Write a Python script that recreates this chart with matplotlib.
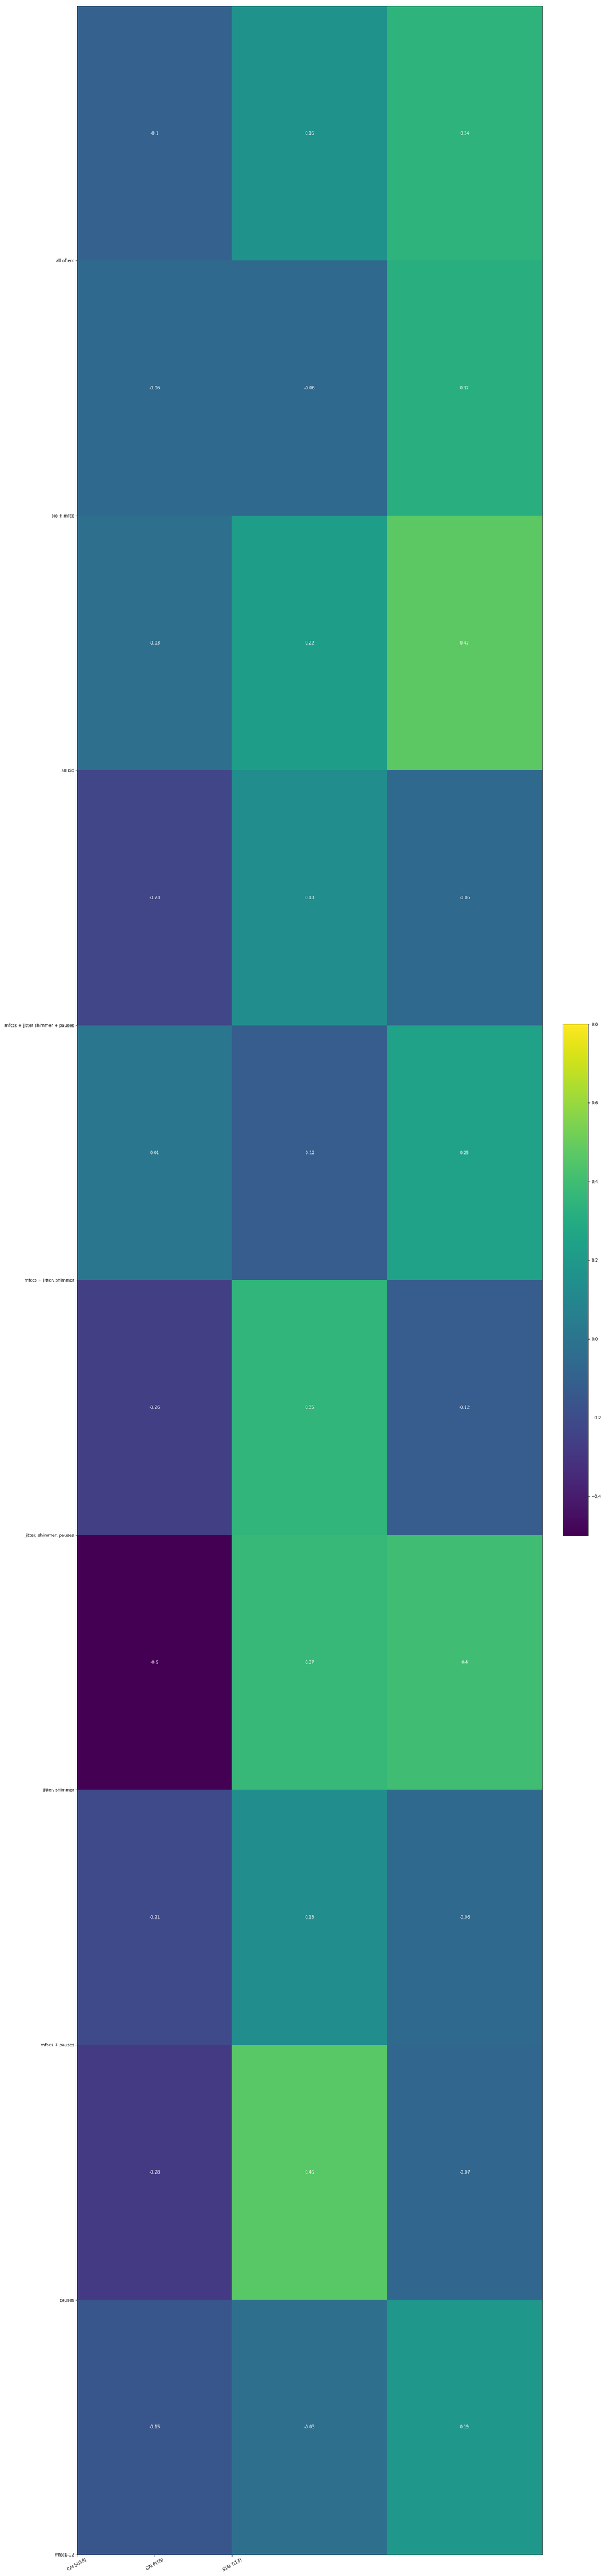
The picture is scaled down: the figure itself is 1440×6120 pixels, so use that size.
import numpy as np
import matplotlib
matplotlib.use("Agg")
from matplotlib import pyplot as plt

# rotulos das linhas (conjuntos de features) e das colunas (escalas)
feature_sets = ["all of em", "bio + mfcc", "all bio", "mfccs + jitter shimmer + pauses",
                "mfccs + jitter, shimmer", "jitter, shimmer, pauses", "jitter, shimmer",
                "mfccs + pauses", "pauses", "mfcc1-12"]
scales = ["CAI St(19)", "CAI F(18)", "STAI T(17)"]

# correlacoes como aparecem escritas em cada celula
cai_st = ["-0.1", "-0.06", "-0.03", "-0.23", "0.01", "-0.26", "-0.5", "-0.21", "-0.28", "-0.15"]
cai_f = ["0.16", "-0.06", "0.22", "0.13", "-0.12", "0.35", "0.37", "0.13", "0.46", "-0.03"]
stai_t = ["0.34", "0.32", "0.47", "-0.06", "0.25", "-0.12", "0.4", "-0.06", "-0.07", "0.19"]

vmin, vmax = -0.5, 0.8

texts = np.array([cai_st, cai_f, stai_t]).T
values = texts.astype(float)

fig = plt.figure(figsize=(20, 85), dpi=72)
ax = fig.add_axes([0.1271, 0.00833, 0.7674, 0.9894])
cax = fig.add_axes([0.9285, 0.4039, 0.0424, 0.1985])

mesh = ax.pcolormesh(np.arange(len(scales) + 1), np.arange(len(feature_sets) + 1), values,
                     cmap="viridis", vmin=vmin, vmax=vmax)
ax.set_xlim(0, len(scales))
ax.set_ylim(len(feature_sets), 0)

# valores escritos no centro de cada celula
for i in range(len(feature_sets)):
    for j in range(len(scales)):
        ax.text(j + 0.5, i + 0.5, texts[i, j], ha="center", va="center", color="w", fontsize=10)

ax.set_xticks(np.arange(len(scales)) * 0.5)
ax.set_xticklabels(scales, rotation=30)
ax.set_yticks(np.arange(1, len(feature_sets) + 1))
ax.set_yticklabels(feature_sets)

fig.colorbar(mesh, cax=cax)

fig.savefig("out.png", dpi=72)
